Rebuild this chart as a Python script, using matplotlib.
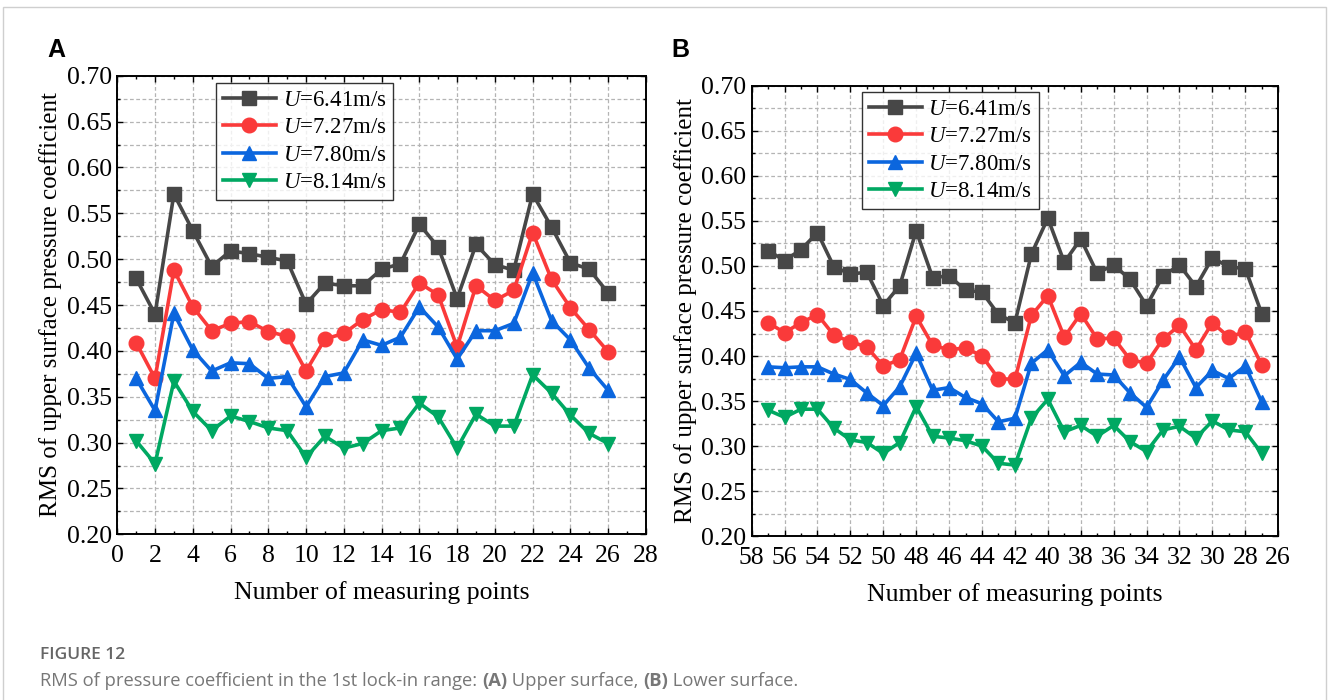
import matplotlib
matplotlib.use('Agg')
import matplotlib.pyplot as plt
from matplotlib.patches import Rectangle
from matplotlib.ticker import MultipleLocator
import numpy as np

plt.rcParams['font.family'] = 'Liberation Serif'
plt.rcParams['mathtext.fontset'] = 'custom'
plt.rcParams['mathtext.rm'] = 'Liberation Serif'
plt.rcParams['mathtext.it'] = 'Liberation Serif:italic'

# ---- data: upper surface (points 1-26) ----
pts_a = list(range(1, 27))
a_641 = [0.479, 0.440, 0.571, 0.531, 0.492, 0.509, 0.506, 0.502, 0.498, 0.451,
         0.474, 0.471, 0.471, 0.489, 0.495, 0.538, 0.513, 0.457, 0.516, 0.494,
         0.488, 0.571, 0.535, 0.496, 0.489, 0.463]
a_727 = [0.409, 0.370, 0.488, 0.448, 0.422, 0.430, 0.432, 0.421, 0.416, 0.378,
         0.413, 0.419, 0.434, 0.445, 0.442, 0.474, 0.461, 0.404, 0.471, 0.455,
         0.466, 0.529, 0.478, 0.447, 0.423, 0.399]
a_780 = [0.370, 0.335, 0.441, 0.401, 0.378, 0.387, 0.386, 0.370, 0.372, 0.339,
         0.372, 0.376, 0.412, 0.406, 0.415, 0.448, 0.426, 0.391, 0.422, 0.422,
         0.430, 0.485, 0.433, 0.412, 0.381, 0.357]
a_814 = [0.302, 0.277, 0.367, 0.334, 0.313, 0.329, 0.323, 0.316, 0.313, 0.284,
         0.307, 0.294, 0.299, 0.313, 0.316, 0.343, 0.328, 0.294, 0.331, 0.318,
         0.318, 0.374, 0.354, 0.330, 0.310, 0.299]

# ---- data: lower surface (points 57 down to 27) ----
pts_b = list(range(57, 26, -1))
b_641 = [0.517, 0.506, 0.518, 0.537, 0.499, 0.491, 0.493, 0.456, 0.478, 0.539,
         0.487, 0.489, 0.473, 0.471, 0.446, 0.437, 0.513, 0.553, 0.504, 0.530,
         0.492, 0.501, 0.485, 0.456, 0.489, 0.501, 0.477, 0.509, 0.499, 0.497,
         0.447]
b_727 = [0.437, 0.426, 0.437, 0.446, 0.423, 0.416, 0.410, 0.389, 0.396, 0.444,
         0.412, 0.407, 0.409, 0.400, 0.375, 0.374, 0.445, 0.467, 0.421, 0.447,
         0.419, 0.420, 0.396, 0.392, 0.419, 0.434, 0.407, 0.437, 0.421, 0.427,
         0.390]
b_780 = [0.388, 0.387, 0.388, 0.388, 0.380, 0.374, 0.359, 0.345, 0.366, 0.403,
         0.362, 0.365, 0.354, 0.347, 0.327, 0.331, 0.392, 0.407, 0.378, 0.393,
         0.380, 0.379, 0.359, 0.343, 0.373, 0.399, 0.365, 0.384, 0.375, 0.389,
         0.349]
b_814 = [0.340, 0.332, 0.341, 0.341, 0.320, 0.307, 0.304, 0.292, 0.304, 0.344,
         0.311, 0.309, 0.306, 0.300, 0.281, 0.279, 0.331, 0.352, 0.316, 0.323,
         0.311, 0.323, 0.305, 0.294, 0.318, 0.322, 0.309, 0.328, 0.318, 0.316,
         0.292]

speeds = ['6.41', '7.27', '7.80', '8.14']
colors = ['#474747', '#fa3a3a', '#0b66de', '#00a862']
markers = ['s', 'o', '^', 'v']


def style_axes(ax, xlim, xstep, ylab_x):
    ax.set_xlim(*xlim)
    ax.set_ylim(0.20, 0.70)
    ax.xaxis.set_major_locator(MultipleLocator(xstep))
    ax.xaxis.set_minor_locator(MultipleLocator(xstep / 2))
    ax.yaxis.set_major_locator(MultipleLocator(0.05))
    ax.yaxis.set_minor_locator(MultipleLocator(0.025))
    ax.yaxis.set_major_formatter(plt.FuncFormatter(lambda v, p: f'{v:.2f}'))
    ax.grid(True, which='major', axis='x', color='#b4b4b4',
            linestyle=(0, (3, 2)), linewidth=0.9)
    ax.grid(True, which='both', axis='y', color='#b4b4b4',
            linestyle=(0, (3, 2)), linewidth=0.9)
    ax.set_axisbelow(True)
    ax.tick_params(which='both', direction='in', top=True, right=True,
                   labelsize=18.5, width=1.0)
    ax.tick_params(axis='x', pad=8)
    ax.tick_params(axis='y', pad=4)
    ax.tick_params(which='major', length=4)
    ax.tick_params(which='minor', length=2.5)
    for s in ax.spines.values():
        s.set_linewidth(1.4)
    ax.set_xlabel('Number of measuring points', fontsize=18.5, labelpad=10)
    ax.set_ylabel('RMS of upper surface pressure coefficient', fontsize=18)
    ax.yaxis.set_label_coords(ylab_x, 0.5)


def draw_series(ax, x, series, anchor):
    for vals, sp, c, m in zip(series, speeds, colors, markers):
        ax.plot(x, vals, marker=m, color=c, markersize=10.5, linewidth=2.6,
                label=f'$U$=' + sp + 'm/s')
    leg = ax.legend(loc='upper left', bbox_to_anchor=anchor, fontsize=16.5,
                    frameon=True, fancybox=False, borderaxespad=0,
                    handlelength=2.3, labelspacing=0.28, borderpad=0.3,
                    handletextpad=0.3, edgecolor='black')
    leg.get_frame().set_linewidth(1.0)


fig = plt.figure(figsize=(13.28, 7.0), dpi=100)

ax_a = fig.add_axes([0.0883, 0.2367, 0.3981, 0.6551])
draw_series(ax_a, pts_a, [a_641, a_727, a_780, a_814], (0.187, 0.984))
style_axes(ax_a, (0, 28), 2, -0.104)

ax_b = fig.add_axes([0.566, 0.2339, 0.3965, 0.6437])
draw_series(ax_b, pts_b, [b_641, b_727, b_780, b_814], (0.2095, 0.986))
style_axes(ax_b, (58, 26), 2, -0.104)

# panel letters
fig.text(47 / 1328, 1 - 50 / 700, 'A', family='Liberation Sans',
         fontweight='bold', fontsize=18, va='center', ha='left')
fig.text(671 / 1328, 1 - 50 / 700, 'B', family='Liberation Sans',
         fontweight='bold', fontsize=18, va='center', ha='left')

# caption
cap_font = 'Open Sans'
fig.text(40 / 1328, 1 - 655 / 700, 'FIGURE 12', family=cap_font,
         fontweight='semibold', fontsize=12.5, color='#666666', va='center')

runs = [('RMS of pressure coefficient in the 1st lock-in range: ', 'normal'),
        ('(A)', 'bold'), (' Upper surface, ', 'normal'),
        ('(B)', 'bold'), (' Lower surface.', 'normal')]
fig.canvas.draw()
renderer = fig.canvas.get_renderer()
xpos = 40
for txt, wt in runs:
    t = fig.text(xpos / 1328, 1 - 681 / 700, txt, family=cap_font,
                 fontweight=wt, fontsize=13.2, color='#777777', va='center')
    bb = t.get_window_extent(renderer)
    xpos += bb.width

# outer frame
fig.patches.append(Rectangle((3 / 1328, -0.02), 1323 / 1328, 1 - 7 / 700 + 0.02,
                             transform=fig.transFigure, fill=False,
                             edgecolor='#cfcfcf', linewidth=1.0))

fig.savefig('out.png', dpi=100)
